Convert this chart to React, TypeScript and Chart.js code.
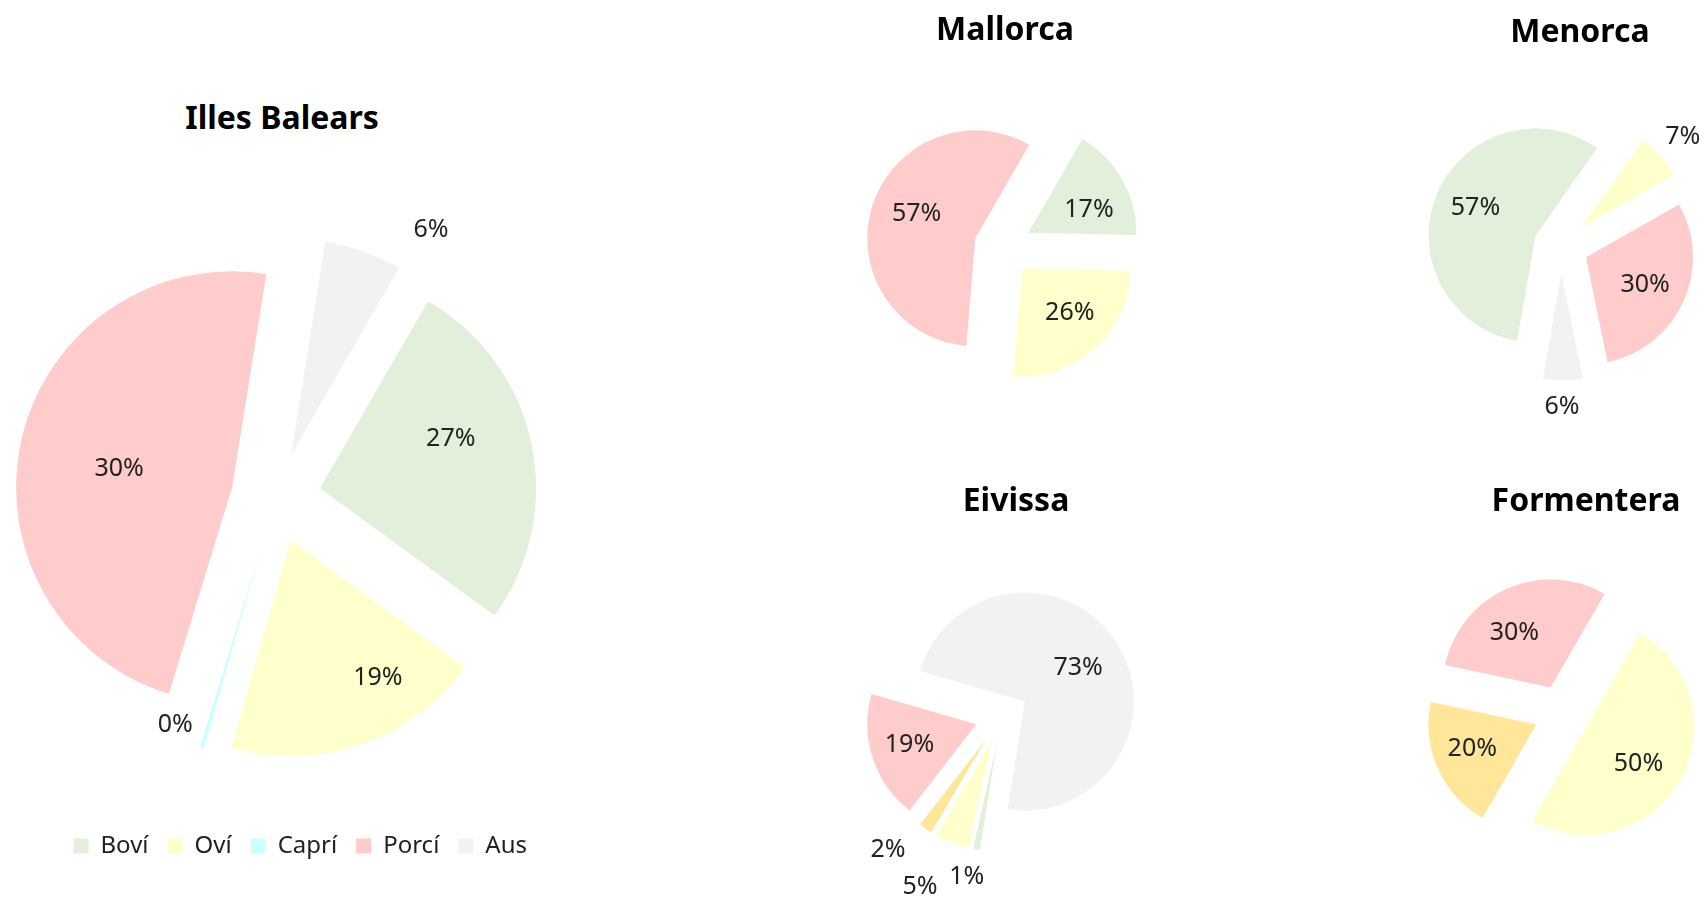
import React, { useEffect, useRef } from 'react';
import { Chart, registerables } from 'chart.js';

Chart.register(...registerables);

// ---------- data ----------
const categories = ['Boví', 'Oví', 'Caprí', 'Porcí', 'Aus'];

const balearsValues = [26.7, 19.4, 0.3, 47.8, 5.8];
const balearsLabels = ['27%', '19%', '0%', '30%', '6%'];

const mallorcaValues = [17, 26, 0, 57, 0];
const mallorcaLabels = ['17%', '26%', null, '57%', null];

const menorcaValues = [57, 7, 0, 30, 6];
const menorcaLabels = ['57%', '7%', null, '30%', '6%'];

const eivissaValues = [1, 5, 2, 19, 73];
const eivissaLabels = ['1%', '5%', '2%', '19%', '73%'];

const formenteraValues = [0, 50, 20, 30, 0];
const formenteraLabels = [null, '50%', '20%', '30%', null];

// ---------- styles ----------
const colorsMain = ['#E2EFDA', '#FFFFCC', '#CCFFFF', '#FFCCCC', '#F2F2F2'];
const colorsAlt = ['#E2EFDA', '#FFFFCC', '#FFE699', '#FFCCCC', '#F2F2F2'];
const FONT = '"Noto Sans", "Open Sans", sans-serif';

type Spec = {
  title: string;
  titleX: number;
  titleY: number;
  values: number[];
  labels: (string | null)[];
  colors: string[];
  rotation: number;
  radius: number;
  explode: number;
  left: number;
  top: number;
  width: number;
  height: number;
  legend: boolean;
  // per-slice label placement: [angle tweak in degrees, distance as fraction of radius]
  placement: [number, number][];
};

const specs: Spec[] = [
  {
    title: 'Illes Balears', titleX: 282, titleY: 117,
    values: balearsValues, labels: balearsLabels, colors: colorsMain,
    rotation: 30, radius: 216, explode: 45,
    left: 6, top: 180, width: 540, height: 688, legend: true,
    placement: [[-8.7, 0.647], [-13.3, 0.757], [9, 0.946], [-4, 0.53], [12.3, 1.227]],
  },
  {
    title: 'Mallorca', titleX: 1005, titleY: 28,
    values: mallorcaValues, labels: mallorcaLabels, colors: colorsMain,
    rotation: 30, radius: 108, explode: 29,
    left: 1003 - 200, top: 247 - 200, width: 400, height: 400, legend: false,
    placement: [[9, 0.6], [-5, 0.6], [0, 0], [5.5, 0.59], [0, 0]],
  },
  {
    title: 'Menorca', titleX: 1580, titleY: 30,
    values: menorcaValues, labels: menorcaLabels, colors: colorsMain,
    rotation: 190, radius: 107, explode: 27.5,
    left: 1561 - 200, top: 246 - 200, width: 400, height: 400, legend: false,
    placement: [[2, 0.618], [0.4, 1.27], [0, 0], [0.7, 0.61], [0.5, 1.247]],
  },
  {
    title: 'Eivissa', titleX: 1016, titleY: 499,
    values: eivissaValues, labels: eivissaLabels, colors: colorsAlt,
    rotation: 189, radius: 109, explode: 27,
    left: 1002 - 200, top: 716 - 200, width: 400, height: 400, legend: false,
    placement: [[1.9, 1.26], [4.7, 1.49], [7.2, 1.37], [1.3, 0.64], [0, 0.58]],
  },
  {
    title: 'Formentera', titleX: 1586, titleY: 499,
    values: formenteraValues, labels: formenteraLabels, colors: colorsAlt,
    rotation: 30, radius: 108, explode: 28,
    left: 1562 - 200, top: 713 - 200, width: 400, height: 400, legend: false,
    placement: [[0, 0], [4.9, 0.59], [2.8, 0.637], [-9.6, 0.607], [0, 0]],
  },
];

function makeExplodePlugin(spec: Spec) {
  return {
    id: 'explodeAndLabels',
    afterUpdate(chart: any) {
      const meta = chart.getDatasetMeta(0);
      meta.data.forEach((arc: any) => {
        const mid = (arc.startAngle + arc.endAngle) / 2;
        arc.x += Math.cos(mid) * spec.explode;
        arc.y += Math.sin(mid) * spec.explode;
      });
    },
    afterDatasetsDraw(chart: any) {
      const ctx = chart.ctx;
      const meta = chart.getDatasetMeta(0);
      ctx.save();
      ctx.font = `25px ${FONT}`;
      ctx.fillStyle = '#222222';
      ctx.textAlign = 'center';
      ctx.textBaseline = 'middle';
      meta.data.forEach((arc: any, i: number) => {
        const text = spec.labels[i];
        if (!text) return;
        const [dAng, dist] = spec.placement[i];
        const ang = (arc.startAngle + arc.endAngle) / 2 + (dAng * Math.PI) / 180;
        const r = arc.outerRadius * dist;
        ctx.fillText(text, arc.x + Math.cos(ang) * r, arc.y + Math.sin(ang) * r);
      });
      ctx.restore();
    },
  };
}

function PieChart({ spec }: { spec: Spec }) {
  const ref = useRef<HTMLCanvasElement | null>(null);
  useEffect(() => {
    if (!ref.current) return;
    const chart = new Chart(ref.current, {
      type: 'pie',
      data: {
        labels: categories,
        datasets: [
          {
            data: spec.values,
            backgroundColor: spec.colors,
            borderWidth: 0,
            radius: spec.radius,
            clip: false,
          } as any,
        ],
      },
      options: {
        responsive: false,
        animation: false,
        events: [],
        rotation: spec.rotation,
        layout: { padding: 0 },
        plugins: {
          tooltip: { enabled: false },
          title: { display: false },
          legend: {
            display: spec.legend,
            position: 'bottom',
            align: 'end',
            labels: {
              boxWidth: 15,
              boxHeight: 15,
              padding: 19,
              color: '#222222',
              font: { family: FONT, size: 24 },
            },
          },
        },
      } as any,
      plugins: [makeExplodePlugin(spec)],
    });
    return () => chart.destroy();
  }, [spec]);
  return (
    <canvas
      ref={ref}
      width={spec.width}
      height={spec.height}
      style={{ position: 'absolute', left: spec.left, top: spec.top, width: spec.width, height: spec.height }}
    />
  );
}

export default function App() {
  return (
    <div
      style={{
        position: 'fixed',
        left: 0,
        top: 0,
        width: 1706,
        height: 898,
        overflow: 'hidden',
        background: '#ffffff',
        fontFamily: FONT,
      }}
    >
      {specs.map((s) => (
        <PieChart key={s.title} spec={s} />
      ))}
      {specs.map((s) => (
        <div
          key={'t-' + s.title}
          style={{
            position: 'absolute',
            left: s.titleX,
            top: s.titleY,
            transform: 'translate(-50%, -50%)',
            fontSize: 32,
            fontWeight: 'bold',
            lineHeight: 1,
            whiteSpace: 'nowrap',
            color: '#000000',
          }}
        >
          {s.title}
        </div>
      ))}
    </div>
  );
}
